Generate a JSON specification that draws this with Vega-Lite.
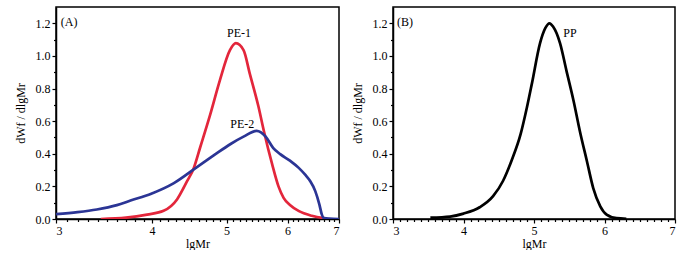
{
  "$schema": "https://vega.github.io/schema/vega-lite/v6.json",
  "background": "white",
  "padding": {"left": 13, "top": 6, "right": 5, "bottom": 0},
  "spacing": 9,
  "config": {
    "font": "Liberation Serif",
    "view": {"stroke": "black", "strokeWidth": 1.5},
    "axis": {
      "grid": false,
      "domainColor": "black",
      "domainWidth": 1.5,
      "tickColor": "black",
      "tickWidth": 1.2,
      "tickSize": 4,
      "labelColor": "black",
      "titleColor": "black",
      "labelFont": "Liberation Serif",
      "titleFont": "Liberation Serif",
      "labelFontSize": 12,
      "titleFontSize": 12,
      "titleFontWeight": "normal",
      "labelPadding": 2
    },
    "text": {"font": "Liberation Serif", "fontSize": 12, "color": "black"}
  },
  "datasets": {
    "pe": [
      {"series": "PE-1", "lgM": 3.43, "v": 0.0},
      {"series": "PE-1", "lgM": 3.7, "v": 0.008},
      {"series": "PE-1", "lgM": 3.94, "v": 0.027},
      {"series": "PE-1", "lgM": 4.14, "v": 0.05},
      {"series": "PE-1", "lgM": 4.31, "v": 0.12},
      {"series": "PE-1", "lgM": 4.44, "v": 0.23},
      {"series": "PE-1", "lgM": 4.53, "v": 0.31},
      {"series": "PE-1", "lgM": 4.62, "v": 0.44},
      {"series": "PE-1", "lgM": 4.76, "v": 0.64},
      {"series": "PE-1", "lgM": 4.9, "v": 0.85},
      {"series": "PE-1", "lgM": 5.05, "v": 1.035},
      {"series": "PE-1", "lgM": 5.14, "v": 1.078},
      {"series": "PE-1", "lgM": 5.26, "v": 1.035},
      {"series": "PE-1", "lgM": 5.36, "v": 0.89},
      {"series": "PE-1", "lgM": 5.5, "v": 0.69},
      {"series": "PE-1", "lgM": 5.59, "v": 0.54},
      {"series": "PE-1", "lgM": 5.73, "v": 0.336},
      {"series": "PE-1", "lgM": 5.84, "v": 0.2},
      {"series": "PE-1", "lgM": 5.93, "v": 0.13},
      {"series": "PE-1", "lgM": 6.05, "v": 0.085},
      {"series": "PE-1", "lgM": 6.21, "v": 0.048},
      {"series": "PE-1", "lgM": 6.45, "v": 0.02},
      {"series": "PE-1", "lgM": 6.7, "v": 0.005},
      {"series": "PE-2", "lgM": 3.0, "v": 0.03},
      {"series": "PE-2", "lgM": 3.2, "v": 0.042},
      {"series": "PE-2", "lgM": 3.39, "v": 0.058},
      {"series": "PE-2", "lgM": 3.6, "v": 0.085},
      {"series": "PE-2", "lgM": 3.75, "v": 0.113},
      {"series": "PE-2", "lgM": 3.99, "v": 0.155},
      {"series": "PE-2", "lgM": 4.27, "v": 0.22},
      {"series": "PE-2", "lgM": 4.58, "v": 0.32},
      {"series": "PE-2", "lgM": 4.81, "v": 0.39},
      {"series": "PE-2", "lgM": 5.06, "v": 0.46},
      {"series": "PE-2", "lgM": 5.26, "v": 0.505},
      {"series": "PE-2", "lgM": 5.47, "v": 0.54},
      {"series": "PE-2", "lgM": 5.62, "v": 0.505},
      {"series": "PE-2", "lgM": 5.75, "v": 0.435},
      {"series": "PE-2", "lgM": 5.87, "v": 0.398},
      {"series": "PE-2", "lgM": 6.05, "v": 0.356},
      {"series": "PE-2", "lgM": 6.2, "v": 0.315},
      {"series": "PE-2", "lgM": 6.33, "v": 0.27},
      {"series": "PE-2", "lgM": 6.42, "v": 0.233},
      {"series": "PE-2", "lgM": 6.52, "v": 0.171},
      {"series": "PE-2", "lgM": 6.6, "v": 0.09},
      {"series": "PE-2", "lgM": 6.65, "v": 0.027},
      {"series": "PE-2", "lgM": 6.69, "v": 0.006},
      {"series": "PE-2", "lgM": 6.8, "v": 0.002},
      {"series": "PE-2", "lgM": 7.0, "v": 0.0}
    ],
    "pp": [
      {"lgM": 3.53, "v": 0.008},
      {"lgM": 3.81, "v": 0.015},
      {"lgM": 4.0, "v": 0.033},
      {"lgM": 4.23, "v": 0.072},
      {"lgM": 4.42, "v": 0.14},
      {"lgM": 4.56, "v": 0.233},
      {"lgM": 4.68, "v": 0.356},
      {"lgM": 4.81, "v": 0.52},
      {"lgM": 4.9, "v": 0.685},
      {"lgM": 4.97, "v": 0.83},
      {"lgM": 5.085, "v": 1.077},
      {"lgM": 5.16, "v": 1.17},
      {"lgM": 5.22, "v": 1.2},
      {"lgM": 5.27, "v": 1.18},
      {"lgM": 5.37, "v": 1.077},
      {"lgM": 5.46, "v": 0.91},
      {"lgM": 5.56, "v": 0.727},
      {"lgM": 5.65, "v": 0.54},
      {"lgM": 5.75, "v": 0.356},
      {"lgM": 5.84, "v": 0.19},
      {"lgM": 5.94, "v": 0.078},
      {"lgM": 6.03, "v": 0.027},
      {"lgM": 6.17, "v": 0.005},
      {"lgM": 6.31, "v": 0.001}
    ],
    "labelsA": [
      {"lgM": 3.12, "v": 1.21, "t": "(A)", "a": "left"},
      {"lgM": 5.19, "v": 1.14, "t": "PE-1", "a": "center"},
      {"lgM": 5.24, "v": 0.585, "t": "PE-2", "a": "center"}
    ],
    "labelsB": [
      {"lgM": 3.17, "v": 1.21, "t": "(B)", "a": "left"},
      {"lgM": 5.51, "v": 1.14, "t": "PP", "a": "center"}
    ]
  },
  "hconcat": [
    {
      "width": 283,
      "height": 212,
      "resolve": {"axis": {"x": "independent", "y": "independent"}},
      "layer": [
        {
          "data": {"name": "pe"},
          "mark": {"type": "line", "strokeWidth": 2.7, "interpolate": "monotone", "clip": true},
          "encoding": {
            "x": {
              "field": "lgM", "type": "quantitative",
              "scale": {"type": "log", "domain": [3, 7], "nice": false},
              "axis": {"title": "lgMr", "orient": "bottom", "values": [3, 4, 5, 6, 7], "format": "d", "titlePadding": 2}
            },
            "y": {
              "field": "v", "type": "quantitative",
              "scale": {"domain": [0, 1.3], "nice": false},
              "axis": {"title": "dWf / dlgMr", "orient": "left", "values": [0, 0.2, 0.4, 0.6, 0.8, 1.0, 1.2], "format": ".1f", "titlePadding": 8}
            },
            "color": {
              "field": "series", "type": "nominal",
              "scale": {"domain": ["PE-1", "PE-2"], "range": ["#e3263b", "#2b3595"]},
              "legend": null
            }
          }
        },
        {
          "data": {"name": "labelsA"},
          "mark": {"type": "text", "baseline": "middle"},
          "encoding": {
            "x": {
              "field": "lgM", "type": "quantitative",
              "axis": {"title": null, "orient": "bottom", "labels": false, "domain": false, "tickSize": 2.5,
                "values": [3.1, 3.2, 3.3, 3.4, 3.5, 3.6, 3.7, 3.8, 3.9, 4.1, 4.2, 4.3, 4.4, 4.5, 4.6, 4.7, 4.8, 4.9, 5.1, 5.2, 5.3, 5.4, 5.5, 5.6, 5.7, 5.8, 5.9, 6.1, 6.2, 6.3, 6.4, 6.5, 6.6, 6.7, 6.8, 6.9]}
            },
            "y": {
              "field": "v", "type": "quantitative",
              "axis": {"title": null, "orient": "left", "labels": false, "domain": false, "tickSize": 2.5,
                "values": [0.1, 0.3, 0.5, 0.7, 0.9, 1.1]}
            },
            "text": {"field": "t"},
            "align": {"field": "a", "type": "nominal", "scale": null}
          }
        }
      ]
    },
    {
      "width": 282,
      "height": 212,
      "resolve": {"axis": {"x": "independent", "y": "independent"}},
      "layer": [
        {
          "data": {"name": "pp"},
          "mark": {"type": "line", "strokeWidth": 2.7, "interpolate": "monotone", "color": "black", "clip": true},
          "encoding": {
            "x": {
              "field": "lgM", "type": "quantitative",
              "scale": {"domain": [3, 7], "nice": false},
              "axis": {"title": "lgMr", "orient": "bottom", "values": [3, 4, 5, 6, 7], "format": "d", "titlePadding": 2}
            },
            "y": {
              "field": "v", "type": "quantitative",
              "scale": {"domain": [0, 1.3], "nice": false},
              "axis": {"title": "dWf / dlgMr", "orient": "left", "values": [0, 0.2, 0.4, 0.6, 0.8, 1.0, 1.2], "format": ".1f", "titlePadding": 8}
            }
          }
        },
        {
          "data": {"name": "labelsB"},
          "mark": {"type": "text", "baseline": "middle"},
          "encoding": {
            "x": {
              "field": "lgM", "type": "quantitative",
              "axis": {"title": null, "orient": "bottom", "labels": false, "domain": false, "tickSize": 2.5,
                "values": [3.1, 3.2, 3.3, 3.4, 3.5, 3.6, 3.7, 3.8, 3.9, 4.1, 4.2, 4.3, 4.4, 4.5, 4.6, 4.7, 4.8, 4.9, 5.1, 5.2, 5.3, 5.4, 5.5, 5.6, 5.7, 5.8, 5.9, 6.1, 6.2, 6.3, 6.4, 6.5, 6.6, 6.7, 6.8, 6.9]}
            },
            "y": {
              "field": "v", "type": "quantitative",
              "axis": {"title": null, "orient": "left", "labels": false, "domain": false, "tickSize": 2.5,
                "values": [0.1, 0.3, 0.5, 0.7, 0.9, 1.1]}
            },
            "text": {"field": "t"},
            "align": {"field": "a", "type": "nominal", "scale": null}
          }
        }
      ]
    }
  ]
}
